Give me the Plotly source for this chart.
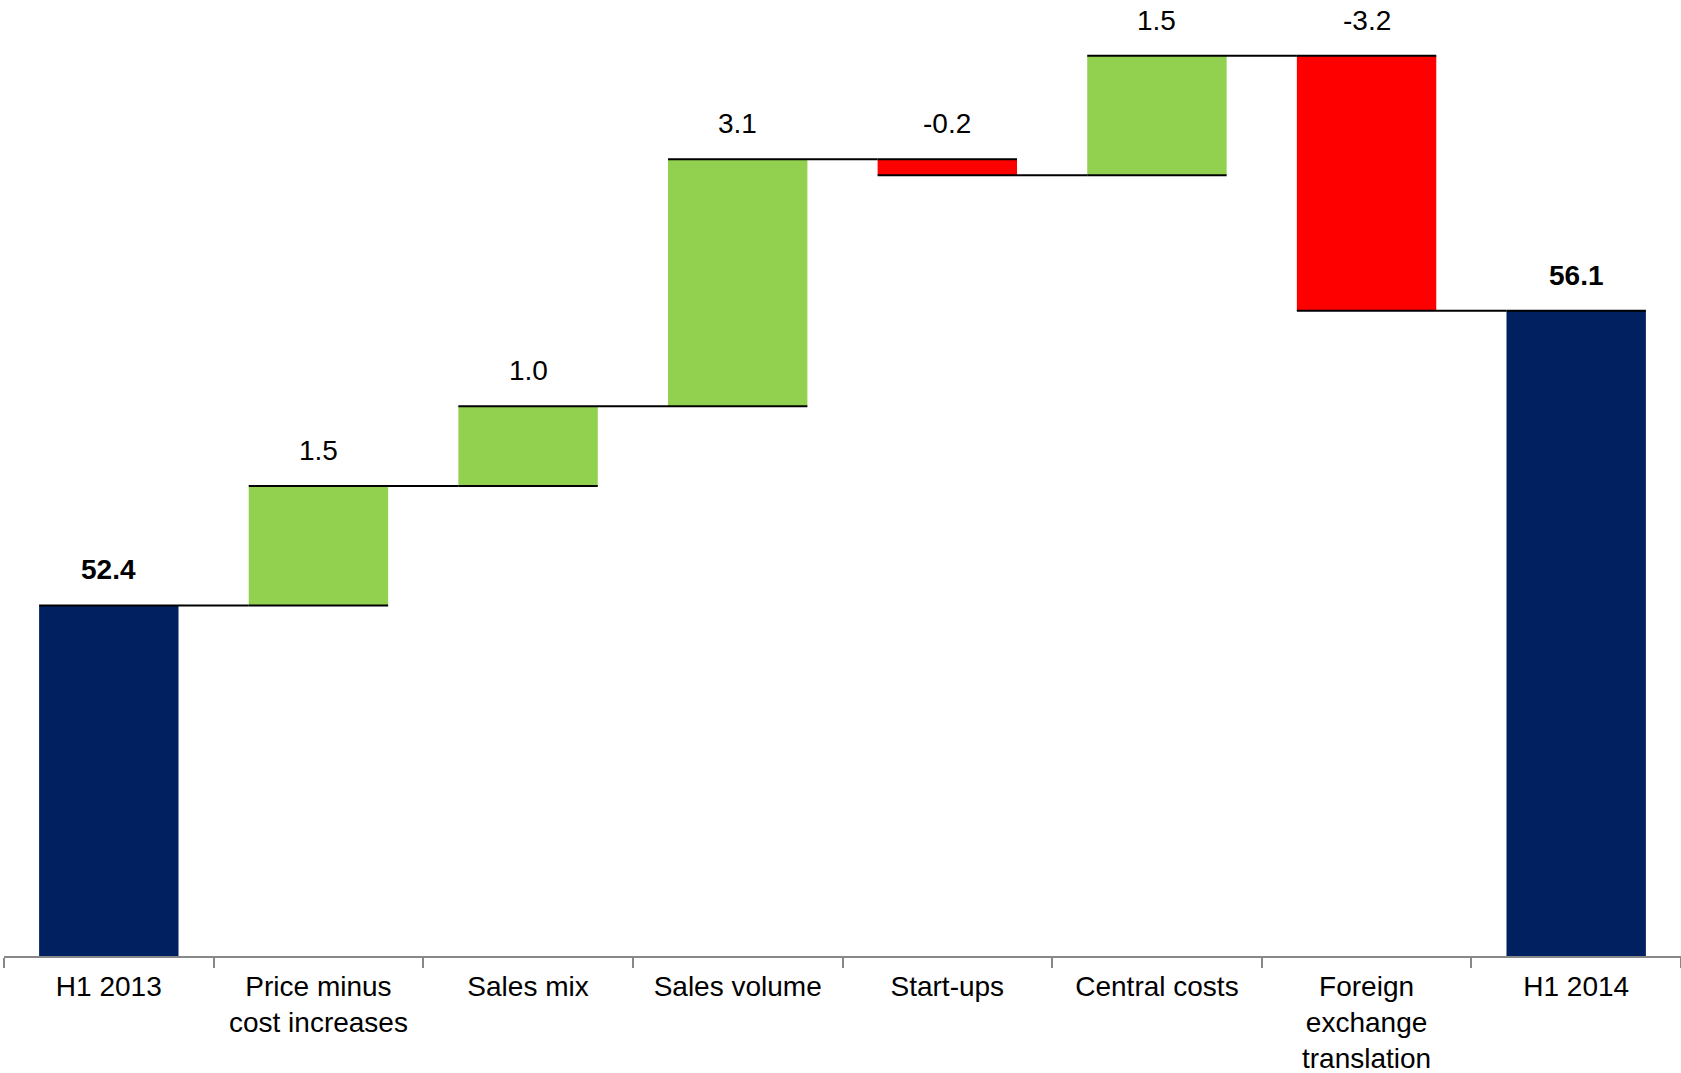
import plotly.graph_objects as go

categories = ["H1 2013", "Price minus<br>cost increases", "Sales mix", "Sales volume",
              "Start-ups", "Central costs", "Foreign<br>exchange<br>translation", "H1 2014"]
values = [52.4, 1.5, 1.0, 3.1, -0.2, 1.5, -3.2, 56.1]
measures = ["absolute", "relative", "relative", "relative", "relative", "relative", "relative", "total"]

NAVY = "#002060"
GREEN = "#92D050"
RED = "#FF0000"
FONT = "Liberation Sans, Arial, sans-serif"

fig = go.Figure(go.Waterfall(
    x=categories,
    y=values,
    measure=measures,
    increasing=dict(marker=dict(color=GREEN)),
    decreasing=dict(marker=dict(color=RED)),
    totals=dict(marker=dict(color=NAVY)),
    connector=dict(mode="spanning", line=dict(color="black", width=2)),
    textposition="none",
    hoverinfo="skip",
))

# labels above each bar (top of each bar computed from cumulative values)
cum = 0.0
for cat, v, m in zip(categories, values, measures):
    if m == "absolute":
        cum = v
        top = v
        bold = True
    elif m == "total":
        top = cum
        bold = True
    else:
        start, end = cum, cum + v
        cum = end
        top = max(start, end)
        bold = False
    txt = f"{v:.1f}"
    if bold:
        txt = f"<b>{txt}</b>"
    fig.add_annotation(x=cat, y=top, text=txt, showarrow=False, yanchor="bottom",
                       yshift=18, font=dict(family=FONT, size=28, color="black"))

fig.update_layout(
    width=1681, height=1073,
    margin=dict(l=4, r=0, t=0, b=117, autoexpand=False),
    paper_bgcolor="white", plot_bgcolor="white",
    waterfallgap=0.335,
    showlegend=False,
    font=dict(family=FONT, size=28, color="black"),
)
fig.update_xaxes(
    type="category", tickson="boundaries", ticks="outside", ticklen=10,
    tickcolor="#888888", tickwidth=1.5, ticklabelstandoff=4, automargin=False,
    showline=True, linecolor="#888888", linewidth=2,
    showgrid=False, tickfont=dict(family=FONT, size=28, color="black"),
)
fig.update_yaxes(range=[48, 60], visible=False, showgrid=False, zeroline=False,
                 automargin=False)

fig.write_html("out.html", config={"displayModeBar": False},
               post_script="document.body.style.margin='0';document.body.style.overflow='hidden';")
